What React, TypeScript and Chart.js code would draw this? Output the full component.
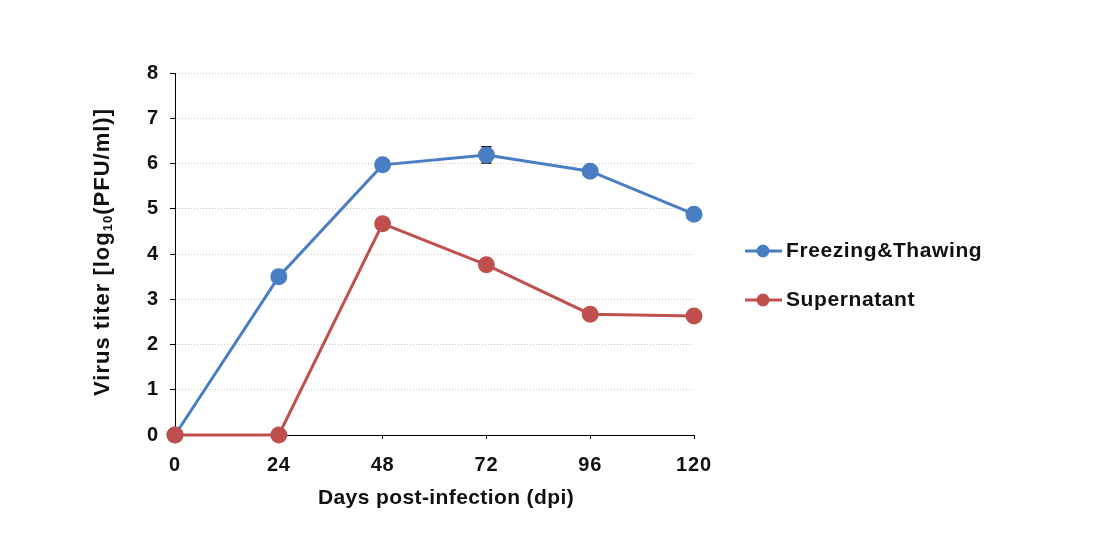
import React, { useEffect, useRef } from "react";
import { Chart, registerables } from "chart.js";

Chart.register(...registerables);

const hours = [0, 24, 48, 72, 96, 120];
const freezeThaw = [0, 3.5, 5.97, 6.19, 5.83, 4.88];
const supernatant = [0, 0, 4.67, 3.76, 2.67, 2.63];
const freezeThawErr = [0, 0, 0, 0.18, 0, 0];
const yTicks = [0, 1, 2, 3, 4, 5, 6, 7, 8];
const seriesNames = ["Freezing&Thawing", "Supernatant"];
const colors = ["#4A7EC3", "#C0504D"];

const FONT = "'Liberation Sans', Arial, sans-serif";

export default function App() {
  const ref = useRef<HTMLCanvasElement>(null);
  useEffect(() => {
    const canvas = ref.current!;
    const extras = {
      id: "extras",
      beforeDraw(chart: any) {
        (chart.ctx as any).letterSpacing = "0.8px";
      },
      beforeDatasetsDraw(chart: any) {
        const ctx = chart.ctx;
        const xs = chart.scales.x;
        const ys = chart.scales.y;
        ctx.save();
        ctx.strokeStyle = "#000";
        ctx.lineWidth = 1.5;
        hours.forEach((h, i) => {
          const e = freezeThawErr[i];
          if (!e) return;
          const px = xs.getPixelForValue(h);
          const top = ys.getPixelForValue(freezeThaw[i] + e);
          const bot = ys.getPixelForValue(freezeThaw[i] - e);
          ctx.beginPath();
          ctx.moveTo(px, top);
          ctx.lineTo(px, bot);
          ctx.moveTo(px - 5, top);
          ctx.lineTo(px + 5, top);
          ctx.moveTo(px - 5, bot);
          ctx.lineTo(px + 5, bot);
          ctx.stroke();
        });
        ctx.restore();
      },
      afterDraw(chart: any) {
        const ctx = chart.ctx;
        ctx.save();
        // legend
        seriesNames.forEach((name, i) => {
          const y = 251 + i * 49;
          ctx.strokeStyle = colors[i];
          ctx.lineWidth = 3;
          ctx.beginPath();
          ctx.moveTo(745, y);
          ctx.lineTo(782, y);
          ctx.stroke();
          ctx.fillStyle = colors[i];
          ctx.beginPath();
          ctx.arc(763, y, 6.5, 0, Math.PI * 2);
          ctx.fill();
          ctx.fillStyle = "#111";
          ctx.font = `bold 21px ${FONT}`;
          (ctx as any).letterSpacing = "0.6px";
          ctx.textAlign = "left";
          ctx.textBaseline = "middle";
          ctx.fillText(name, 786, y);
        });
        // x title
        ctx.fillStyle = "#111";
        ctx.font = `bold 21px ${FONT}`;
        (ctx as any).letterSpacing = "0.4px";
        ctx.textAlign = "center";
        ctx.textBaseline = "middle";
        ctx.fillText("Days post-infection (dpi)", 446, 498);
        // y title with subscript
        ctx.translate(103, 252);
        ctx.rotate(-Math.PI / 2);
        const p1 = "Virus titer [log";
        const sub = "10";
        const p2 = "(PFU/ml)]";
        const bigFont = `bold 22px ${FONT}`;
        const smallFont = `bold 13px ${FONT}`;
        (ctx as any).letterSpacing = "1px";
        ctx.font = bigFont;
        const w1 = ctx.measureText(p1).width;
        const w3 = ctx.measureText(p2).width;
        ctx.font = smallFont;
        const w2 = ctx.measureText(sub).width;
        const total = w1 + w2 + w3;
        let x = -total / 2;
        ctx.textAlign = "left";
        ctx.textBaseline = "middle";
        ctx.font = bigFont;
        ctx.fillText(p1, x, 0);
        x += w1;
        ctx.font = smallFont;
        ctx.fillText(sub, x, 5);
        x += w2;
        ctx.font = bigFont;
        ctx.fillText(p2, x, 0);
        ctx.restore();
      },
    };

    const chart = new Chart(canvas, {
      type: "line",
      data: {
        datasets: [
          {
            label: seriesNames[0],
            data: hours.map((h, i) => ({ x: h, y: freezeThaw[i] })),
            borderColor: colors[0],
            backgroundColor: colors[0],
            pointBackgroundColor: colors[0],
            pointBorderColor: colors[0],
            borderWidth: 3,
            pointRadius: 7,
            clip: false as any,
            order: 1,
          },
          {
            label: seriesNames[1],
            data: hours.map((h, i) => ({ x: h, y: supernatant[i] })),
            borderColor: colors[1],
            backgroundColor: colors[1],
            pointBackgroundColor: colors[1],
            pointBorderColor: colors[1],
            borderWidth: 3,
            pointRadius: 7,
            clip: false as any,
            order: 0,
          },
        ],
      },
      plugins: [extras],
      options: {
        animation: false,
        responsive: false,
        maintainAspectRatio: false,
        layout: { padding: { left: 0, right: 399, top: 73, bottom: 0 } },
        plugins: { legend: { display: false }, tooltip: { enabled: false } },
        scales: {
          x: {
            type: "linear",
            min: 0,
            max: 120,
            afterBuildTicks: (s: any) => {
              s.ticks = hours.map((v) => ({ value: v }));
            },
            afterFit: (s: any) => {
              s.height = 113;
            },
            grid: {
              drawOnChartArea: false,
              drawTicks: true,
              tickLength: 4,
              tickColor: "#000",
            },
            border: { color: "#000", width: 1 },
            ticks: {
              padding: 14,
              color: "#111",
              font: { family: FONT, size: 20, weight: "bold" },
              maxRotation: 0,
            },
          },
          y: {
            type: "linear",
            min: 0,
            max: 8,
            afterBuildTicks: (s: any) => {
              s.ticks = yTicks.map((v) => ({ value: v }));
            },
            afterFit: (s: any) => {
              s.width = 175;
            },
            grid: {
              color: "#c8c8c8",
              lineWidth: 1,
              drawTicks: true,
              tickLength: 5,
              tickColor: "#000",
              tickBorderDash: [],
            },
            border: { color: "#000", width: 1, dash: [1, 2] },
            ticks: {
              padding: 11,
              color: "#111",
              font: { family: FONT, size: 20, weight: "bold" },
            },
          },
        },
      } as any,
    });
    return () => chart.destroy();
  }, []);
  return (
    <div style={{ position: "absolute", left: 0, top: 0, width: 1093, height: 548, background: "#fff" }}>
      <canvas ref={ref} width={1093} height={548} style={{ width: 1093, height: 548 }} />
    </div>
  );
}
